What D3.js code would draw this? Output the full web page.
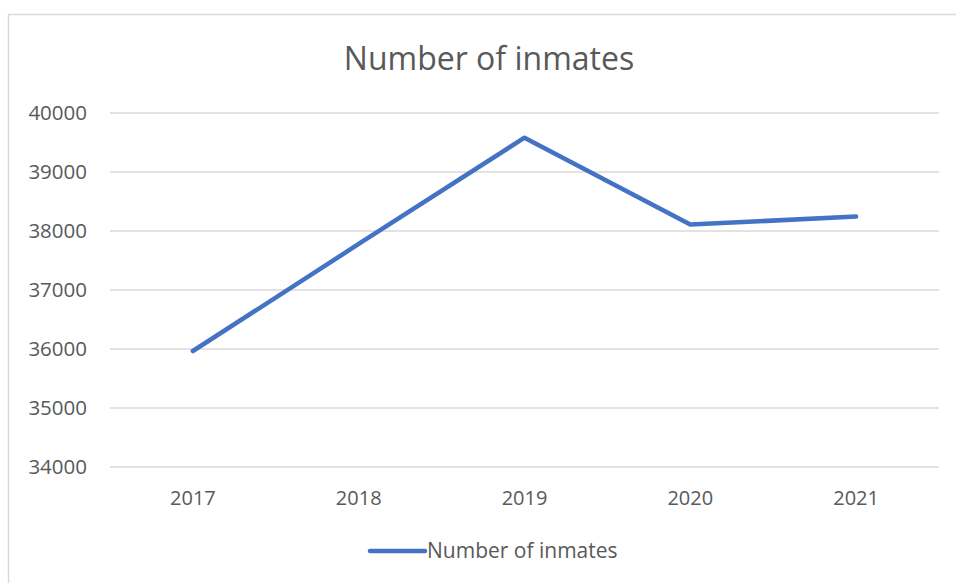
<!DOCTYPE html>
<html>
<head>
<meta charset="utf-8">
<script src="https://cdn.jsdelivr.net/npm/d3@7"></script>
<style>
  body { margin: 0; background: #fff; }
  svg { display: block; font-family: "Open Sans", "Noto Sans", sans-serif; }
</style>
</head>
<body>
<div id="chart"></div>
<script>
const years = ["2017", "2018", "2019", "2020", "2021"];
const inmates = [35966, 37780, 39581, 38109, 38244];
const yTicks = [34000, 35000, 36000, 37000, 38000, 39000, 40000];
const seriesName = "Number of inmates";
const chartTitle = "Number of inmates";

const W = 956, H = 583;
const margin = { top: 113, right: 17, bottom: 116, left: 110 };
const width = W - margin.left - margin.right;
const height = H - margin.top - margin.bottom;

const svg = d3.select("#chart").append("svg")
    .attr("width", W)
    .attr("height", H);

// outer chart border
svg.append("rect")
    .attr("x", 8.5).attr("y", 14.5)
    .attr("width", 960).attr("height", 600)
    .attr("fill", "#fff")
    .attr("stroke", "#d9d9d9")
    .attr("stroke-width", 1.5);

svg.append("text")
    .attr("x", 489)
    .attr("y", 70)
    .attr("text-anchor", "middle")
    .attr("fill", "#595959")
    .style("font-size", "32px")
    .text(chartTitle);

const g = svg.append("g")
    .attr("transform", `translate(${margin.left},${margin.top})`);

const x = d3.scaleBand().domain(years).range([0, width]);
const y = d3.scaleLinear().domain([34000, 40000]).range([height, 0]);

// gridlines
g.selectAll(".grid")
    .data(yTicks)
    .join("line")
    .attr("class", "grid")
    .attr("x1", 0).attr("x2", width)
    .attr("y1", d => y(d)).attr("y2", d => y(d))
    .attr("stroke", "#d9d9d9")
    .attr("stroke-width", 1.5);

const yAxis = g.append("g")
    .call(d3.axisLeft(y).tickValues(yTicks).tickSize(0).tickPadding(23).tickFormat(d3.format("d")));
yAxis.select(".domain").remove();
yAxis.selectAll("text")
    .attr("fill", "#595959")
    .style("font-size", "20.5px")
    .style("font-family", "Open Sans, Noto Sans, sans-serif");

const xAxis = g.append("g")
    .attr("transform", `translate(0,${height})`)
    .call(d3.axisBottom(x).tickSize(0).tickPadding(24));
xAxis.select(".domain").remove();
xAxis.selectAll("text")
    .attr("fill", "#595959")
    .style("font-size", "20px")
    .style("font-family", "Open Sans, Noto Sans, sans-serif");

const line = d3.line()
    .x((d, i) => x(years[i]) + x.bandwidth() / 2)
    .y(d => y(d));

g.append("path")
    .datum(inmates)
    .attr("fill", "none")
    .attr("stroke", "#4472c4")
    .attr("stroke-width", 4.5)
    .attr("stroke-linecap", "round")
    .attr("stroke-linejoin", "round")
    .attr("d", line);

// legend
const legend = svg.append("g").attr("transform", "translate(370,551)");
legend.append("line")
    .attr("x1", 0).attr("x2", 55)
    .attr("stroke", "#4472c4")
    .attr("stroke-width", 4.5)
    .attr("stroke-linecap", "round");
legend.append("text")
    .attr("x", 57)
    .attr("y", 7)
    .attr("fill", "#595959")
    .style("font-size", "21px")
    .text(seriesName);
</script>
</body>
</html>
